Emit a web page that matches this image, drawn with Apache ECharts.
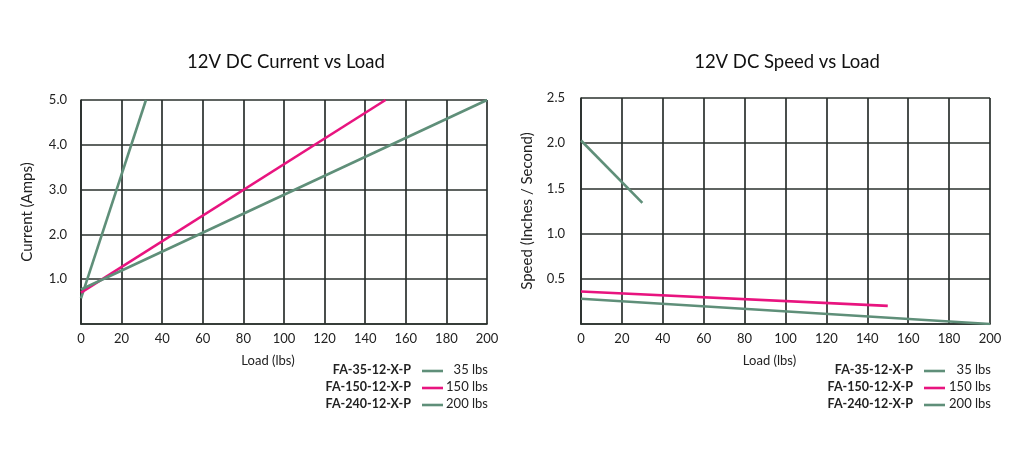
<!DOCTYPE html>
<html>
<head>
<meta charset="utf-8">
<script src="https://cdn.jsdelivr.net/npm/echarts@6/dist/echarts.min.js"></script>
<style>
html,body{margin:0;padding:0;background:#fff;}
#chart{width:1024px;height:455px;}
</style>
</head>
<body>
<div id="chart"></div>
<script>
// ---- data ----
const titles = ['12V DC Current vs Load', '12V DC Speed vs Load'];
const yNames = ['Current (Amps)', 'Speed (Inches / Second)'];
const xName = 'Load (lbs)';
const models = ['FA-35-12-X-P', 'FA-150-12-X-P', 'FA-240-12-X-P'];
const capacities = ['35 lbs', '150 lbs', '200 lbs'];

// Current vs load  [load, amps]
const current35 = [[0, 0.57], [32, 5.0]];
const current150 = [[0, 0.70], [150, 5.0]];
const current200 = [[0, 0.77], [200, 5.0]];

// Speed vs load  [load, in/s]
const speed35 = [[0, 2.03], [30, 1.34]];
const speed150 = [[0, 0.36], [150, 0.20]];
const speed200 = [[0, 0.28], [200, 0.0]];

const GREEN = '#5f8f79';
const PINK = '#e8147f';
const GRID = '#2a302d';
const FONT = 'Lato';
const colors = [GREEN, PINK, GREEN];

const chart = echarts.init(document.getElementById('chart'), null, {renderer: 'canvas'});

function xAxis(gi) {
  return {
    type: 'value', gridIndex: gi, min: 0, max: 200, interval: 20,
    name: xName, nameLocation: 'middle', nameGap: 30,
    nameTextStyle: {fontFamily: FONT, fontSize: 13, color: '#222', padding: [0, 32, 0, 0]},
    axisLine: {show: true, lineStyle: {color: GRID, width: 1.7}},
    axisTick: {show: false},
    axisLabel: {fontFamily: FONT, fontSize: 13, color: '#222', margin: 8},
    splitLine: {show: true, lineStyle: {color: GRID, width: 1.7}}
  };
}
function yAxis(gi, max, interval, margin) {
  return {
    type: 'value', gridIndex: gi, min: 0, max: max, interval: interval,
    name: yNames[gi], nameLocation: 'middle', nameGap: 46, nameRotate: 90,
    nameTextStyle: {fontFamily: FONT, fontSize: 15, color: '#222'},
    axisLine: {show: true, lineStyle: {color: GRID, width: 1.7}},
    axisTick: {show: false},
    axisLabel: {fontFamily: FONT, fontSize: 13, color: '#222', margin: margin,
      formatter: v => v === 0 ? '' : v.toFixed(1)},
    splitLine: {show: true, lineStyle: {color: GRID, width: 1.7}}
  };
}
function line(data, color, gi) {
  return {
    type: 'line', data: data, xAxisIndex: gi, yAxisIndex: gi,
    showSymbol: false, symbol: 'none', clip: true,
    lineStyle: {color: color, width: 2.6}, itemStyle: {color: color},
    z: 5, animation: false
  };
}

// legend graphics built from arrays
const graphics = [];
const legendPos = [{right: 411, l0: 422, l1: 443, cap: 488}, {right: 913, l0: 924, l1: 945, cap: 991}];
const rowY = [370, 387, 404];
legendPos.forEach(p => {
  models.forEach((m, i) => {
    graphics.push({type: 'text', x: p.right, y: rowY[i],
      style: {text: m, fontFamily: FONT, fontWeight: 'bold', fontSize: 12.5, fill: '#222',
        align: 'right', verticalAlign: 'middle'}});
    graphics.push({type: 'line', shape: {x1: p.l0, y1: rowY[i] + 1, x2: p.l1, y2: rowY[i] + 1},
      style: {stroke: colors[i], lineWidth: 2.6}});
    graphics.push({type: 'text', x: p.cap, y: rowY[i],
      style: {text: capacities[i], fontFamily: FONT, fontSize: 13, fill: '#222',
        align: 'right', verticalAlign: 'middle'}});
  });
});

chart.setOption({
  animation: false,
  backgroundColor: '#fff',
  title: [
    {text: titles[0], left: 281, top: 48, textAlign: 'center',
      textStyle: {fontFamily: FONT, fontSize: 18.5, fontWeight: 'normal', color: '#111'}},
    {text: titles[1], left: 782, top: 48, textAlign: 'center',
      textStyle: {fontFamily: FONT, fontSize: 18.5, fontWeight: 'normal', color: '#111'}}
  ],
  grid: [
    {left: 81, right: 1024 - 487, top: 100, bottom: 455 - 324},
    {left: 581, right: 1024 - 990, top: 98, bottom: 455 - 324}
  ],
  xAxis: [xAxis(0), xAxis(1)],
  yAxis: [yAxis(0, 5, 1, 14), yAxis(1, 2.5, 0.5, 16)],
  series: [
    line(current35, GREEN, 0),
    line(current150, PINK, 0),
    line(current200, GREEN, 0),
    line(speed35, GREEN, 1),
    line(speed150, PINK, 1),
    line(speed200, GREEN, 1)
  ],
  graphic: graphics
});
</script>
</body>
</html>
